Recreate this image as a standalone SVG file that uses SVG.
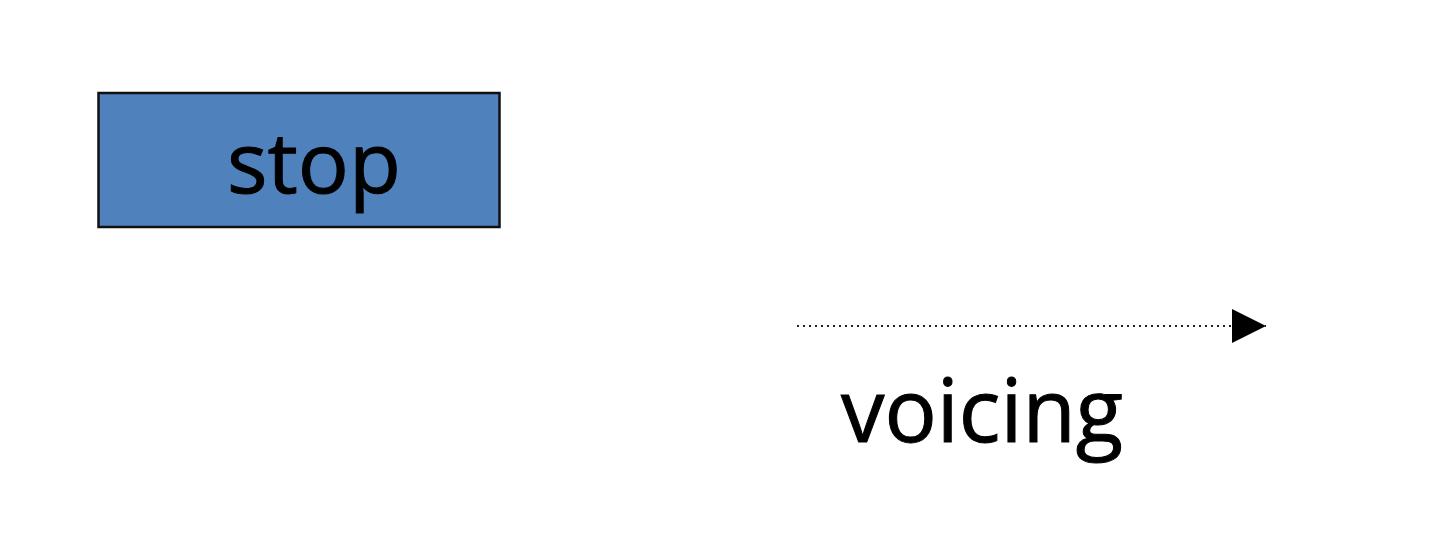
<svg xmlns="http://www.w3.org/2000/svg" width="1440" height="542" viewBox="0 0 1440 542">
<style>
.lbl{font-family:"Open Sans","Noto Sans","DejaVu Sans",sans-serif;fill:#000;stroke:#000;stroke-width:1;}
</style>
<defs>
<marker id="ah" markerWidth="34" markerHeight="34" viewBox="0 0 34 34" refX="34" refY="17" markerUnits="userSpaceOnUse" orient="auto">
<path d="M0,0 L34,17 L0,34 Z" fill="#000"/>
</marker>
</defs>
<rect width="1440" height="542" fill="#fff"/>
<g id="stop">
<rect x="98.5" y="93" width="401" height="134" fill="#4F81BD" stroke="#111" stroke-width="2.5"/>
<text class="lbl" x="314" y="193" font-size="85" text-anchor="middle">stop</text>
</g>
<g id="connectors">
<line x1="797" y1="326" x2="1266" y2="326" stroke="#222" stroke-width="2" stroke-dasharray="2 4" marker-end="url(#ah)"/>
</g>
<g id="voicing">
<text class="lbl" x="982" y="442" font-size="87" text-anchor="middle">voicing</text>
</g>
</svg>
